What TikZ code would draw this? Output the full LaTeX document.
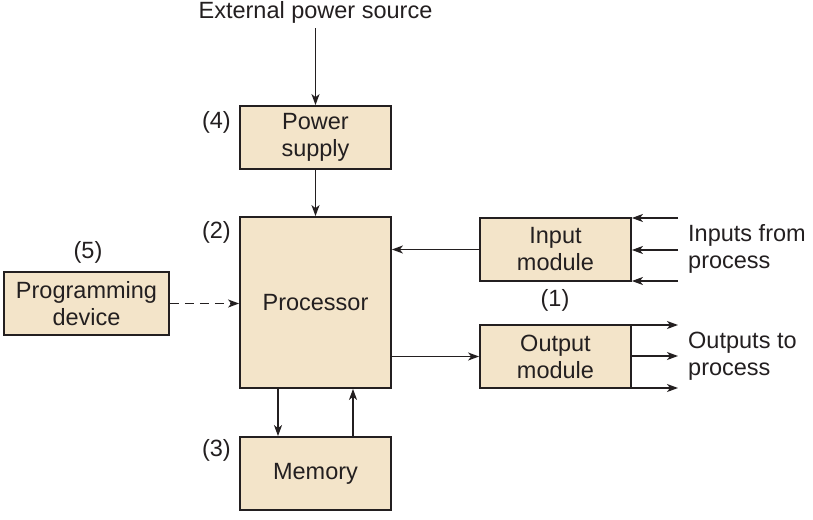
\documentclass[tikz,border=0pt]{standalone}
\usepackage{fontspec}
\setmainfont{Liberation Sans}
\usetikzlibrary{arrows.meta}
\definecolor{boxfill}{HTML}{F3E4C9}
\definecolor{ink}{HTML}{231F20}
\begin{document}
\begin{tikzpicture}[x=1pt,y=-1pt,
  every node/.style={font=\fontsize{23.5}{27}\selectfont, text=ink},
  blk/.style={draw=ink, line width=1.8pt, fill=boxfill, align=center, inner sep=0pt},
  lbl/.style={inner sep=0pt},
  arr/.style={draw=ink, line width=1.3pt, -{Stealth[length=11pt,width=8pt,inset=3pt]}}]
\useasboundingbox (0,0) rectangle (813,519);
% boxes
\node[blk, minimum width=151pt, minimum height=63pt] (ps) at (315.5,137.5) {Power\\supply};
\node[blk, minimum width=151pt, minimum height=171pt] (proc) at (315.5,302.5) {Processor};
\node[blk, minimum width=151pt, minimum height=63pt] (in) at (555.5,249.5) {Input\\module};
\node[blk, minimum width=151pt, minimum height=63pt] (out) at (555.5,356.5) {Output\\module};
\node[blk, minimum width=165pt, minimum height=63pt] (prog) at (86.5,303.5) {Programming\\device};
\node[blk, minimum width=151pt, minimum height=73pt] (mem) at (315.5,473.5) {Memory};
% labels
\node[lbl] (ext) at (315.5,12) {External power source};
\node[lbl, anchor=east] (l4) at (231,122) {(4)};
\node[lbl, anchor=east] (l2) at (231,232) {(2)};
\node[lbl, anchor=east] (l3) at (231,450) {(3)};
\node[lbl] (l5) at (88,252) {(5)};
\node[lbl] (l1) at (555,300) {(1)};
\node[lbl, anchor=west, align=left] (inp) at (688,249) {Inputs from\\process};
\node[lbl, anchor=west, align=left] (outp) at (688,356) {Outputs to\\process};
% free ends
\coordinate (i1) at (678,218);
\coordinate (i2) at (678,250);
\coordinate (i3) at (678,281);
\coordinate (o1) at (678,325);
\coordinate (o2) at (678,356);
\coordinate (o3) at (678,388);
% connectors
\draw[arr] (ext.south) ++(0,5) -- (ps.north);
\draw[arr] (ps.south) -- (proc.north);
\draw[arr] (in.west) -- (in.west -| proc.east);
\draw[arr] (out.west -| proc.east) -- (out.west);
\draw[arr, dash pattern=on 9pt off 6pt] (prog.east) -- (prog.east -| proc.west);
\draw[arr] (proc.south -| 278,0) -- (mem.north -| 278,0);
\draw[arr] (mem.north -| 353,0) -- (proc.south -| 353,0);
\draw[arr] (i1) -- (i1 -| in.east);
\draw[arr] (i2) -- (i2 -| in.east);
\draw[arr] (i3) -- (i3 -| in.east);
\draw[arr] (o1 -| out.east) -- (o1);
\draw[arr] (o2 -| out.east) -- (o2);
\draw[arr] (o3 -| out.east) -- (o3);
\end{tikzpicture}
\end{document}
